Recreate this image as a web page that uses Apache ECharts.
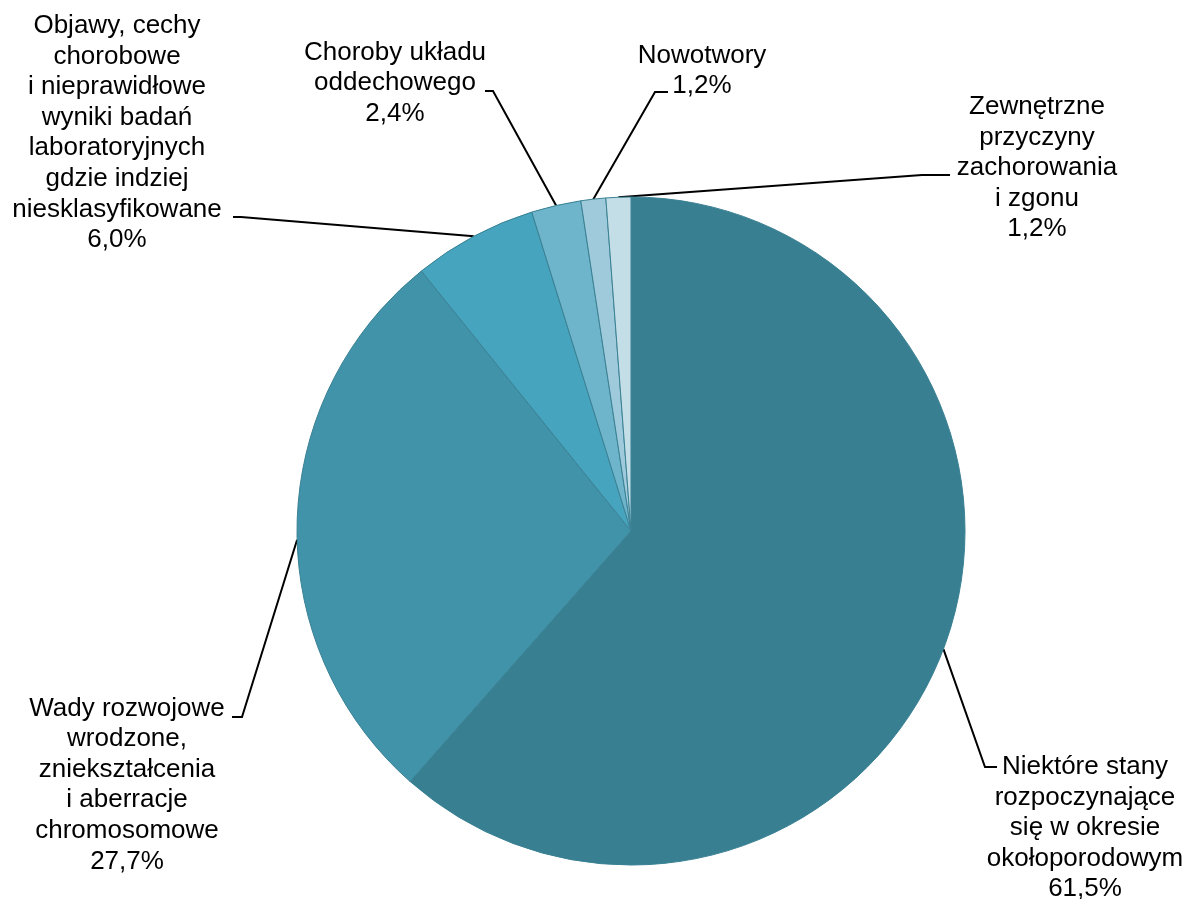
<!DOCTYPE html>
<html>
<head>
<meta charset="utf-8">
<script src="https://cdn.jsdelivr.net/npm/echarts@6/dist/echarts.min.js"></script>
<style>
  html, body { margin: 0; padding: 0; background: #fff; }
  #chart { width: 1191px; height: 899px; }
</style>
</head>
<body>
<div id="chart"></div>
<script>
// ---- data ----
const categories = [
  'Niektóre stany\nrozpoczynające\nsię w okresie\nokołoporodowym',
  'Wady rozwojowe\nwrodzone,\nzniekształcenia\ni aberracje\nchromosomowe',
  'Objawy, cechy\nchorobowe\ni nieprawidłowe\nwyniki badań\nlaboratoryjnych\ngdzie indziej\nniesklasyfikowane',
  'Choroby układu\noddechowego',
  'Nowotwory',
  'Zewnętrzne\nprzyczyny\nzachorowania\ni zgonu'
];
const shares = [61.5, 27.7, 6.0, 2.4, 1.2, 1.2];
const sliceColors = ['#377F91', '#4193AA', '#46A4BE', '#6EB5CB', '#9ECADB', '#C3DEE7'];

// ---- layout (label placement and leader lines) ----
const PIE_CX = 631, PIE_CY = 531, PIE_R = 334;
const labelPlacement = [
  { x: 1085, y: 828, attach: [-88, -61], elbow: -12, anchorAngle: 110.7 },
  { x: 127,  y: 785, attach: [105, -68], elbow: 10,  anchorAngle: 268.5 },
  { x: 117,  y: 133, attach: [116, 84],  elbow: 8 },
  { x: 395,  y: 83,  attach: [90, 8],    elbow: 8 },
  { x: 702,  y: 71,  attach: [-34, 21],  elbow: -13 },
  { x: 1037, y: 168, attach: [-87, 7],   elbow: -28 }
];

const pieData = categories.map((name, i) => ({
  name: name,
  value: shares[i],
  itemStyle: { color: sliceColors[i] }
}));

const chart = echarts.init(document.getElementById('chart'), null, { renderer: 'canvas' });

function anchorFromAngle(deg) {
  const a = deg * Math.PI / 180;
  return [PIE_CX + PIE_R * Math.sin(a), PIE_CY - PIE_R * Math.cos(a)];
}

chart.setOption({
  animation: false,
  backgroundColor: '#ffffff',
  series: [{
    type: 'pie',
    center: [PIE_CX, PIE_CY],
    radius: PIE_R,
    startAngle: 90,
    clockwise: true,
    avoidLabelOverlap: false,
    emphasis: { disabled: true },
    itemStyle: { borderColor: '#3a8194', borderWidth: 1 },
    label: {
      show: true,
      position: 'outside',
      color: '#000',
      fontFamily: '"Liberation Sans", Arial, sans-serif',
      fontSize: 26,
      lineHeight: 30.6,
      align: 'center',
      formatter: function (p) {
        return p.name + '\n' + p.value.toFixed(1).replace('.', ',') + '%';
      }
    },
    labelLine: {
      show: true,
      length: 10,
      length2: 10,
      lineStyle: { color: '#000', width: 2 }
    },
    labelLayout: function (params) {
      const L = labelPlacement[params.dataIndex];
      const p1 = [L.x + L.attach[0], L.y + L.attach[1]];
      const p2 = [p1[0] + L.elbow, p1[1]];
      let p3;
      if (L.anchorAngle != null) {
        p3 = anchorFromAngle(L.anchorAngle);
      } else if (params.labelLinePoints && params.labelLinePoints[0]) {
        p3 = params.labelLinePoints[0];
      } else {
        p3 = [PIE_CX, PIE_CY - PIE_R];
      }
      return {
        x: L.x,
        y: L.y,
        align: 'center',
        verticalAlign: 'middle',
        labelLinePoints: [p3, p2, p1]
      };
    },
    data: pieData
  }]
});
</script>
</body>
</html>
